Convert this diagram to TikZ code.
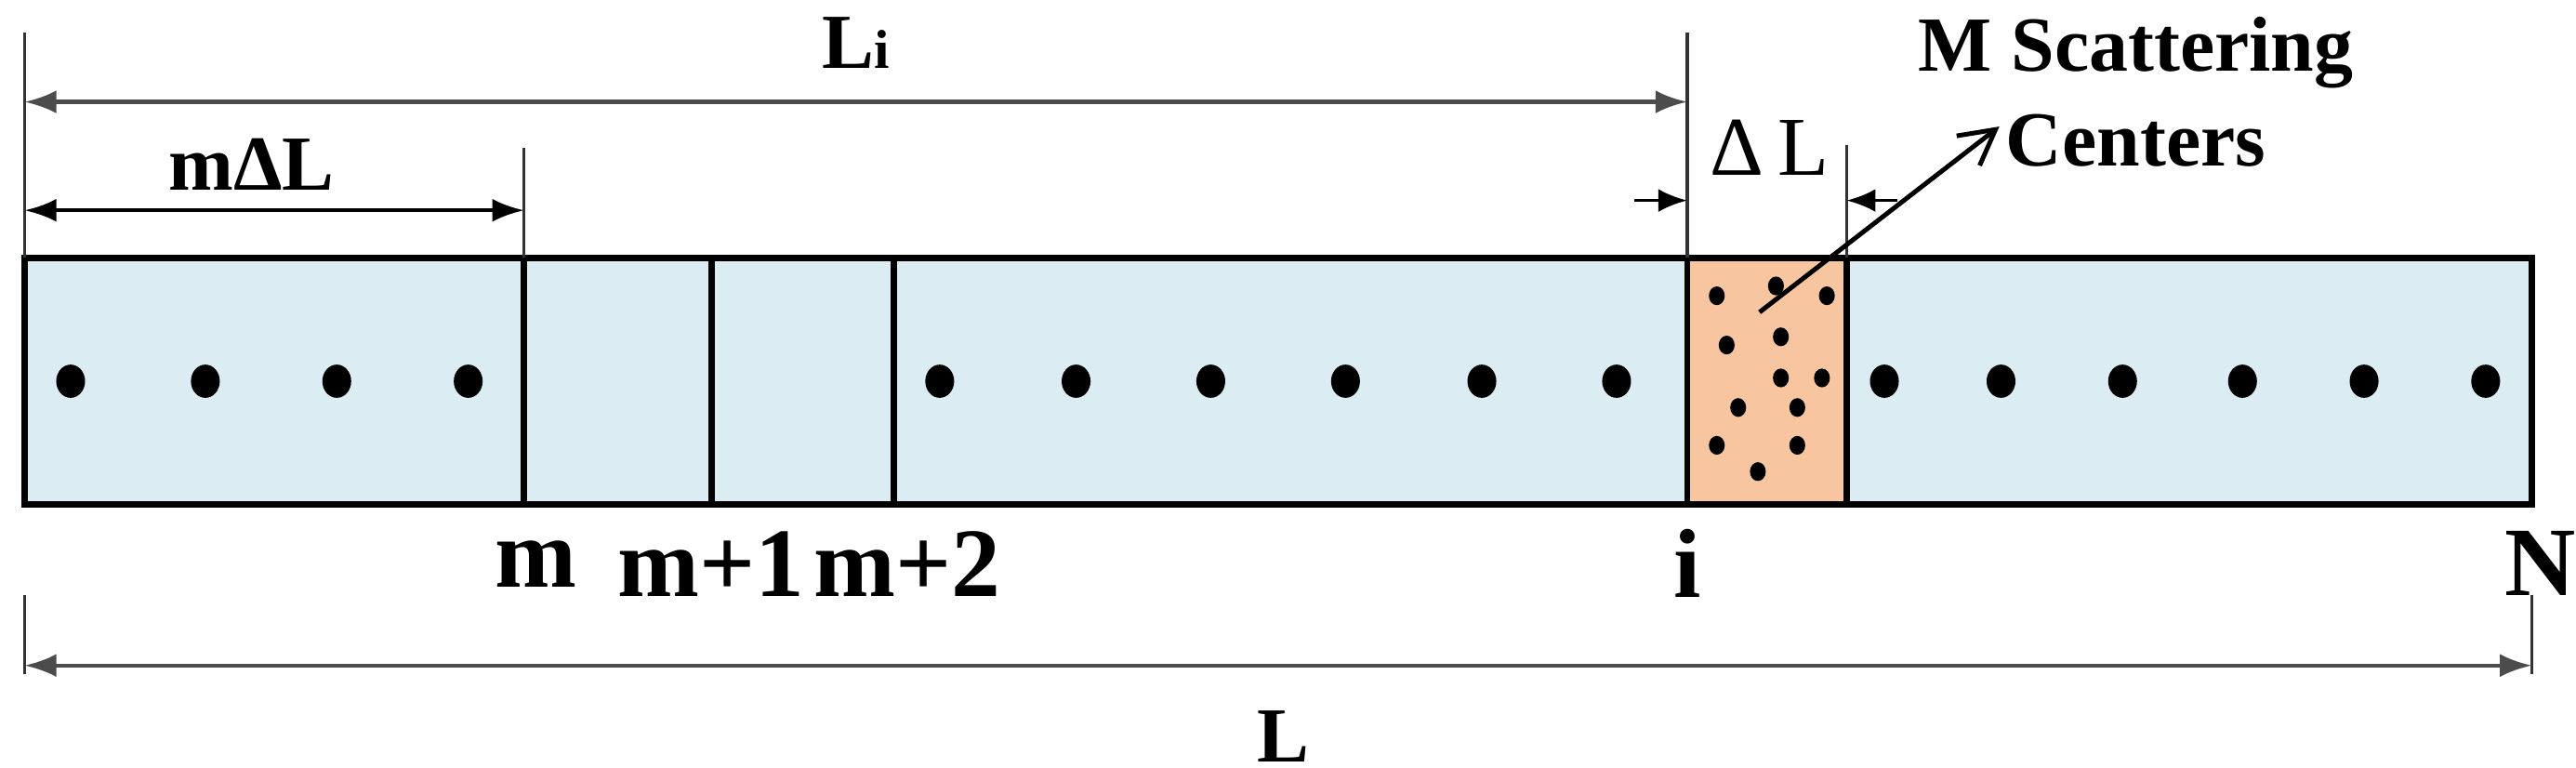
\documentclass[tikz,border=0pt]{standalone}
\usepackage{fontspec}
\setmainfont{Liberation Serif}
\usetikzlibrary{arrows.meta,shapes.geometric}
\begin{document}
\begin{tikzpicture}[x=0.02cm,y=-0.02cm,
  dim/.style={line width=1.4pt,draw=black!70,{Latex[length=11pt,width=8pt]}-{Latex[length=11pt,width=8pt]}},
  onearrow/.style={line width=1.2pt,-{Latex[length=10pt,width=8pt]}},
  tick/.style={line width=1pt,draw=black!80},
  seg/.style={line width=2.2pt},
  bigdot/.style={fill=black,ellipse,inner sep=0pt,minimum width=10pt,minimum height=11.5pt},
  smalldot/.style={fill=black,ellipse,inner sep=0pt,minimum width=5.5pt,minimum height=6.5pt},
  lab/.style={font=\bfseries\fontsize{34}{38}\selectfont},
  slab/.style={font=\bfseries\fontsize{27}{31}\selectfont,align=center}]
\useasboundingbox (0,0) rectangle (1568,467);
\definecolor{fib}{HTML}{DBECF2}
\definecolor{scat}{HTML}{F7C59F}
% fibre
\fill[fib] (15,157) rectangle (1541,307);
\fill[scat] (1027,157) rectangle (1124,307);
\draw[seg] (15,157) rectangle (1541,307);
\foreach \x in {319,433,544,1027,1124} \draw[seg] (\x,157) -- (\x,307);
% dots
\foreach \x [count=\k] in {43,125,205,285,572,655,737,819,902,984,1147,1218,1292,1365,1439,1513}
  \node[bigdot] (d\k) at (\x,232) {};
\foreach \x/\y [count=\k] in {1045/180,1081/174,1112/180,1051/210,1084/205,1084/230,1109/230,1058/248,1094/248,1045/271,1094/271,1070/287}
  \node[smalldot] (s\k) at (\x,\y) {};
% ticks
\coordinate (t0a) at (15,20); \coordinate (t0b) at (15,157);
\coordinate (tia) at (1027,20); \coordinate (tib) at (1027,157);
\coordinate (tma) at (319,90); \coordinate (tmb) at (319,157);
\coordinate (tda) at (1124,88); \coordinate (tdb) at (1124,157);
\coordinate (b0a) at (15,362); \coordinate (b0b) at (15,410);
\coordinate (bNa) at (1541,362); \coordinate (bNb) at (1541,410);
\foreach \a/\b in {t0a/t0b,tia/tib,tma/tmb,tda/tdb,b0a/b0b,bNa/bNb} \draw[tick] (\a) -- (\b);
% dimension arrows
\coordinate (li1) at (15,62); \coordinate (li2) at (1027,62);
\draw[dim] (li1) -- (li2);
\node[slab] (Li) at (521,26) {L{\fontsize{19}{20}\selectfont i}};
\coordinate (ml1) at (15,128); \coordinate (ml2) at (319,128);
\draw[dim,draw=black] (ml1) -- (ml2);
\node[slab] (mdl) at (153,100) {mΔL};
\coordinate (dl1) at (995,122); \coordinate (dl2) at (1027,122);
\coordinate (dr1) at (1155,122); \coordinate (dr2) at (1124,122);
\draw[onearrow] (dl1) -- (dl2);
\draw[onearrow] (dr1) -- (dr2);
\node[font=\fontsize{29}{31}\selectfont] (dL) at (1077,90) {Δ\,L};
\coordinate (L1) at (15,405); \coordinate (L2) at (1541,405);
\draw[dim] (L1) -- (L2);
\node[slab] (Lb) at (781,448) {L};
% scattering pointer
\coordinate (pa) at (1071,190); \coordinate (pb) at (1217,77);
\draw[line width=1.6pt,-{Straight Barb[length=12pt,width=13pt]}] (pa) -- (pb);
\node[slab,anchor=center] (msc) at (1300,56) {M Scattering\\[2pt]Centers};
% labels
\node[lab] (lm) at (326,343) {m};
\node[lab] (lm1) at (433,343) {m+1};
\node[lab] (lm2) at (552,343) {m+2};
\node[lab] (li) at (1027,343) {i};
\node[lab] (lN) at (1546,343) {N};
\end{tikzpicture}
\end{document}
